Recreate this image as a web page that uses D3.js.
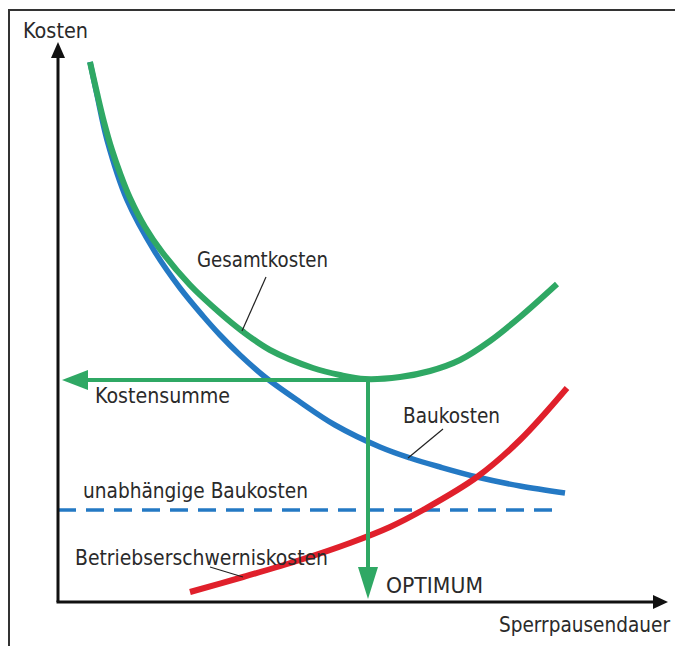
<!DOCTYPE html>
<html>
<head>
<meta charset="utf-8">
<script src="https://cdn.jsdelivr.net/npm/d3@7"></script>
<style>
  body { margin: 0; background: #fff; }
  text { font-family: "Liberation Sans Narrow", "DejaVu Sans Condensed", sans-serif; fill: #2a2a2a; }
</style>
</head>
<body>
<div id="chart"></div>
<script>
// Values (x = Sperrpausendauer, y = Kosten, arbitrary units)
var bauX = [32, 39, 49, 69, 97, 122, 145, 162, 182, 207, 242, 277, 322, 352, 382, 419, 462, 507];
var bauY = [540, 507, 462, 402, 350, 314, 286, 267, 247, 225, 200, 177, 155, 144, 135, 125, 116, 109];

var gesX = [32, 39, 46, 54, 62, 72, 87, 104, 132, 162, 184, 212, 255, 282, 307, 342, 372, 402, 432, 462, 499];
var gesY = [540, 509, 480, 452, 429, 404, 375, 350, 317, 289, 271, 252, 234, 227, 223, 225, 231, 242, 261, 285, 318];

var betX = [132, 185, 242, 292, 332, 365, 419, 462, 509];
var betY = [10, 25, 42, 59, 75, 92, 125, 162, 214];

var festBau = 92;      // unabhaengige Baukosten
var festBauEnd = 502;
var optX = 310;        // Optimum
var optY = 222;        // Kostensumme

var width = 675;
var height = 646;

// origin of the axes and their tips
var x0 = 58, y0 = 602;
var xTip = 668, yTip = 42;

var svg = d3.select("#chart")
  .append("svg")
  .attr("width", width)
  .attr("height", height);

var xScale = d3.scaleLinear().domain([0, xTip - x0]).range([x0, xTip]);
var yScale = d3.scaleLinear().domain([0, y0 - yTip]).range([y0, yTip]);

// outer frame (only top and left edge are visible)
svg.append("path")
  .attr("d", "M9," + height + "V10H" + width)
  .attr("fill", "none")
  .attr("stroke", "#333")
  .attr("stroke-width", 2);

function zip(xs, ys) {
  return xs.map(function(d, i) { return [d, ys[i]]; });
}

var line = d3.line()
  .x(function(d) { return xScale(d[0]); })
  .y(function(d) { return yScale(d[1]); })
  .curve(d3.curveCatmullRom.alpha(0.5));

// dashed line: unabhaengige Baukosten
svg.append("line")
  .attr("x1", xScale(0))
  .attr("x2", xScale(festBauEnd))
  .attr("y1", yScale(festBau))
  .attr("y2", yScale(festBau))
  .attr("stroke", "#2479c4")
  .attr("stroke-width", 3.5)
  .attr("stroke-dasharray", "18,10");

// Baukosten
svg.append("path")
  .datum(zip(bauX, bauY))
  .attr("d", line)
  .attr("fill", "none")
  .attr("stroke", "#2479c4")
  .attr("stroke-width", 5.5);

// Betriebserschwerniskosten
svg.append("path")
  .datum(zip(betX, betY))
  .attr("d", line)
  .attr("fill", "none")
  .attr("stroke", "#e0202b")
  .attr("stroke-width", 6);

// Gesamtkosten
svg.append("path")
  .datum(zip(gesX, gesY))
  .attr("d", line)
  .attr("fill", "none")
  .attr("stroke", "#2fa864")
  .attr("stroke-width", 6);

// green arrows: Kostensumme and Optimum
var green = "#2fa864";
svg.append("line")
  .attr("x1", xScale(optX)).attr("y1", yScale(optY))
  .attr("x2", xScale(0) + 25).attr("y2", yScale(optY))
  .attr("stroke", green).attr("stroke-width", 4);
svg.append("path")
  .attr("d", "M" + (xScale(0) + 4) + "," + yScale(optY) +
    "l26,-10v20z")
  .attr("fill", green);

svg.append("line")
  .attr("x1", xScale(optX)).attr("y1", yScale(optY))
  .attr("x2", xScale(optX)).attr("y2", yScale(0) - 30)
  .attr("stroke", green).attr("stroke-width", 4);
svg.append("path")
  .attr("d", "M" + xScale(optX) + "," + (yScale(0) - 3) +
    "l-10,-32h20z")
  .attr("fill", green);

// axes with arrow heads
svg.append("line")
  .attr("x1", x0).attr("y1", y0)
  .attr("x2", x0).attr("y2", yTip + 12)
  .attr("stroke", "#111").attr("stroke-width", 3);
svg.append("path")
  .attr("d", "M" + x0 + "," + yTip + "l-7,16h14z")
  .attr("fill", "#111");

svg.append("line")
  .attr("x1", x0 - 1.5).attr("y1", y0)
  .attr("x2", xTip - 12).attr("y2", y0)
  .attr("stroke", "#111").attr("stroke-width", 3);
svg.append("path")
  .attr("d", "M" + xTip + "," + y0 + "l-15,-7v14z")
  .attr("fill", "#111");

// leader lines
var leaders = [
  [266, 277, 242, 331],
  [443, 429, 408, 458],
  [210, 567, 243, 577]
];
svg.selectAll(".leader")
  .data(leaders)
  .enter()
  .append("line")
  .attr("class", "leader")
  .attr("x1", function(d) { return d[0]; })
  .attr("y1", function(d) { return d[1]; })
  .attr("x2", function(d) { return d[2]; })
  .attr("y2", function(d) { return d[3]; })
  .attr("stroke", "#222")
  .attr("stroke-width", 1.2);

// labels: text, x, baseline, width
var labels = [
  ["Kosten", 23, 38, 65],
  ["Gesamtkosten", 197, 267, 131],
  ["Kostensumme", 95, 403, 135],
  ["Baukosten", 403, 423, 97],
  ["unabhängige Baukosten", 83, 498, 225],
  ["Betriebserschwerniskosten", 75, 565, 253],
  ["OPTIMUM", 386, 593, 97],
  ["Sperrpausendauer", 499, 632, 171]
];
svg.selectAll(".lbl")
  .data(labels)
  .enter()
  .append("text")
  .attr("class", "lbl")
  .attr("x", function(d) { return d[1]; })
  .attr("y", function(d) { return d[2]; })
  .attr("textLength", function(d) { return d[3]; })
  .attr("lengthAdjust", "spacingAndGlyphs")
  .style("font-size", "21px")
  .text(function(d) { return d[0]; });
</script>
</body>
</html>
